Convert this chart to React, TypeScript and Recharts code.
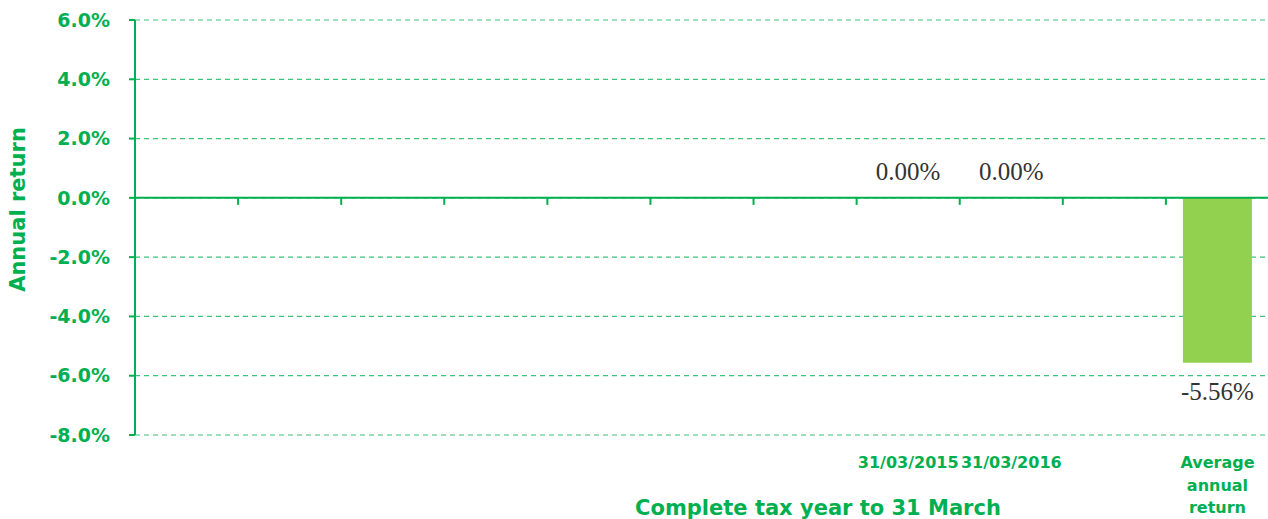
import React from 'react';
import { BarChart, Bar, XAxis, YAxis, CartesianGrid, ReferenceLine, LabelList, Cell } from 'recharts';

const CATEGORIES = ['', '', '', '', '', '', '', '31/03/2015', '31/03/2016', '', 'Average annual return'];
const RETURNS: (number | null)[] = [null, null, null, null, null, null, null, 0, 0, null, -5.56];
const Y_TICKS = [-8, -6, -4, -2, 0, 2, 4, 6];

const GREEN = '#00b050';
const GRID_GREEN = '#3cc47a';
const BAR_GREEN = '#92d050';
const FONT = '"DejaVu Sans", sans-serif';

const data = CATEGORIES.map((name, i) => ({ name, value: RETURNS[i] }));

// category label, wrapped by words
const XTick = (props: any) => {
  const { x, y, payload } = props;
  const label = String(payload?.value ?? '');
  if (!label) return null;
  const lines = label.split(' ');
  return (
    <text x={x} y={y} textAnchor="middle" fill={GREEN} fontSize={16} fontWeight="bold" fontFamily={FONT}>
      {lines.map((l, i) => (
        <tspan key={i} x={x} dy={i === 0 ? 25 : 22.5}>{l}</tspan>
      ))}
    </text>
  );
};

// zero line with tick marks between categories
const ZeroLine = (props: any) => {
  const { x1, x2, y1 } = props;
  const step = (x2 - x1) / CATEGORIES.length;
  return (
    <g>
      <line x1={x1} x2={x2} y1={y1} y2={y1} stroke={GREEN} strokeWidth={2} />
      {CATEGORIES.slice(1).map((_, i) => (
        <line key={i} x1={x1 + step * (i + 1)} x2={x1 + step * (i + 1)} y1={y1} y2={y1 + 7} stroke={GREEN} strokeWidth={2} />
      ))}
    </g>
  );
};

const ValueLabel = (props: any) => {
  const { x, y, width, height, value } = props;
  if (value == null) return null;
  const top = Math.min(y, y + height);
  const bottom = Math.max(y, y + height);
  const ty = value < 0 ? bottom + 29 : top - 25;
  return (
    <text x={x + width / 2} y={ty} textAnchor="middle" dominantBaseline="central" fill="#333333"
      fontSize={25} fontFamily='"Liberation Serif", "Times New Roman", serif'>
      {`${Number(value).toFixed(2)}%`}
    </text>
  );
};

const YTitle = (props: any) => {
  const { x, y, height } = props.viewBox;
  const cx = x + 18;
  const cy = y + height / 2 - 18;
  return (
    <text x={cx} y={cy} transform={`rotate(-90 ${cx} ${cy})`} textAnchor="middle" dominantBaseline="central"
      fill={GREEN} fontSize={21} fontWeight="bold" fontFamily={FONT}>
      Annual return
    </text>
  );
};

const XTitle = (props: any) => {
  const { x, y, width } = props.viewBox;
  return (
    <text x={x + width / 2 + 116} y={y + 73} textAnchor="middle" dominantBaseline="central"
      fill={GREEN} fontSize={21} fontWeight="bold" fontFamily={FONT}>
      Complete tax year to 31 March
    </text>
  );
};

export default function App() {
  return (
    <div style={{ position: 'absolute', left: 0, top: 0, width: 1268, height: 519, background: '#fff' }}>
      <BarChart width={1268} height={519} data={data} margin={{ top: 20, right: -1, bottom: 0, left: 0 }} barSize={69}>
        <CartesianGrid vertical={false} stroke={GRID_GREEN} strokeDasharray="5 4" strokeWidth={1.2} />
        <XAxis dataKey="name" height={84} axisLine={false} tickLine={false} interval={0} tick={<XTick />}
          label={<XTitle />} />
        <YAxis width={135} domain={[-8, 6]} ticks={Y_TICKS} interval={0} allowDataOverflow
          tickFormatter={(v: number) => `${v.toFixed(1)}%`}
          axisLine={{ stroke: GREEN, strokeWidth: 2 }} tickLine={{ stroke: GREEN, strokeWidth: 2 }}
          tickSize={6} tickMargin={19}
          tick={{ fill: GREEN, fontSize: 19, fontWeight: 'bold', fontFamily: FONT }}
          label={<YTitle />} />
        <Bar dataKey="value" fill={BAR_GREEN} isAnimationActive={false}
          minPointSize={(v: any) => (v === 0 ? 1 : 0)}>
          {data.map((d, i) => (
            <Cell key={i} fill={d.value === 0 ? 'transparent' : BAR_GREEN} />
          ))}
          <LabelList dataKey="value" content={<ValueLabel />} />
        </Bar>
        <ReferenceLine y={0} shape={<ZeroLine />} />
      </BarChart>
    </div>
  );
}
